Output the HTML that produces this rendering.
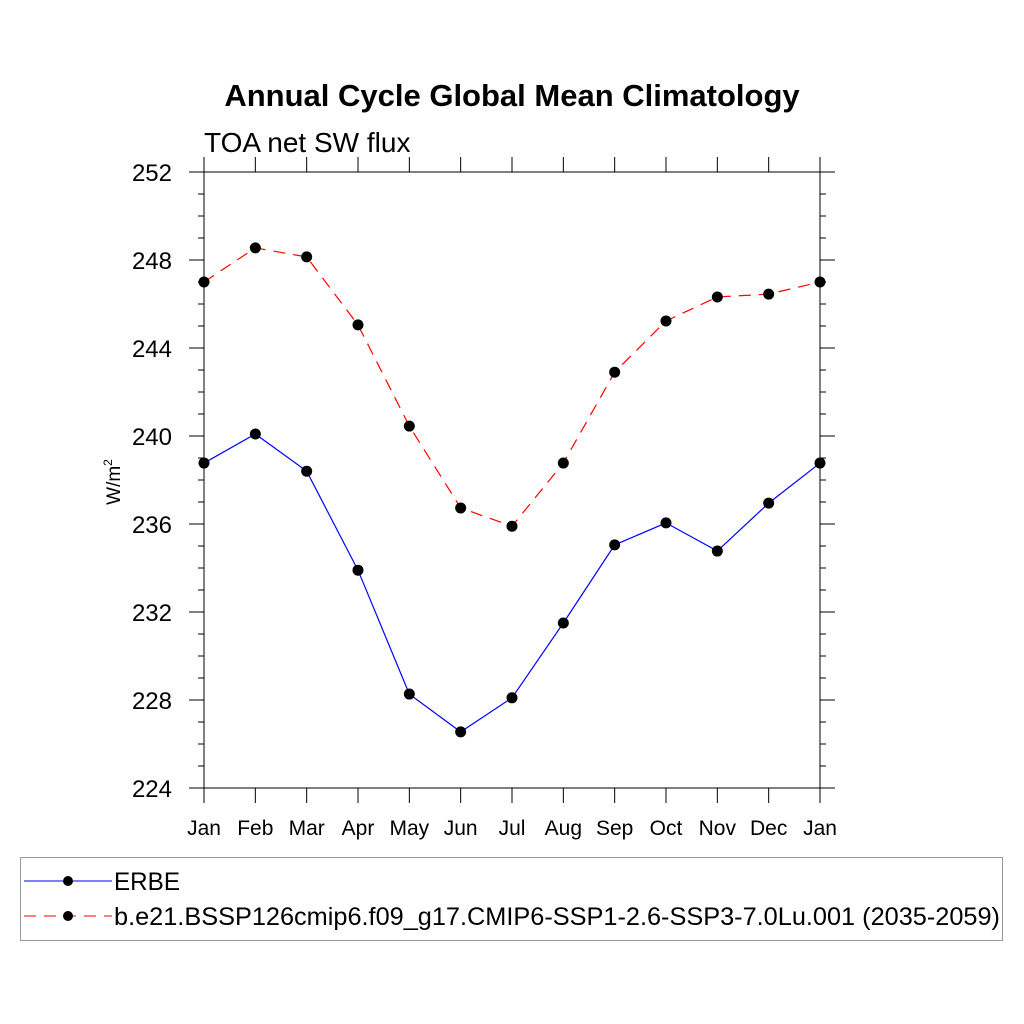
<!DOCTYPE html>
<html><head><meta charset="utf-8"><style>body{margin:0;background:#fff}svg{display:block}text{font-family:"Liberation Sans",Helvetica,sans-serif}</style></head>
<body>
<svg id="c" width="1024" height="1024" xmlns="http://www.w3.org/2000/svg"></svg>
<script>
const months = ["Jan","Feb","Mar","Apr","May","Jun","Jul","Aug","Sep","Oct","Nov","Dec","Jan"];
const erbe = [238.77,240.09,238.4,233.9,228.27,226.55,228.1,231.5,235.05,236.05,234.77,236.95,238.77];
const model = [247.0,248.55,248.14,245.05,240.45,236.73,235.9,238.77,242.9,245.23,246.32,246.45,247.0];
const yTicks = [224,228,232,236,240,244,248,252];
const NS="http://www.w3.org/2000/svg";
const svg=document.getElementById('c');
const L=204,R=820,T=172,B=788,ymin=224,ymax=252;
const xs=i=>L+(R-L)*i/(months.length-1);
const ys=v=>B-(v-ymin)/(ymax-ymin)*(B-T);
function el(t,a,p){const e=document.createElementNS(NS,t);for(const k in a)e.setAttribute(k,a[k]);(p||svg).appendChild(e);return e;}
let e;
e=el('text',{x:512,y:106,'text-anchor':'middle','font-size':31,'font-weight':'bold'});e.textContent='Annual Cycle Global Mean Climatology';


e=el('text',{x:204,y:152,'font-size':28});e.textContent='TOA net SW flux';


e=el('text',{x:0,y:0,'font-size':19,'text-anchor':'middle',transform:'translate(120,482) rotate(-90)'});
e.innerHTML='W/m<tspan dy="-8" font-size="12">2</tspan>';


e=el('rect',{x:L,y:T,width:R-L,height:B-T,fill:'none',stroke:'#000','stroke-width':1});


for(let v=ymin;v<=ymax;v++){
 const major=(v-ymin)%4===0,len=major?15:6,y=ys(v);
 el('line',{x1:L-len,x2:L,y1:y,y2:y,stroke:'#000'});
 el('line',{x1:R,x2:R+len,y1:y,y2:y,stroke:'#000'});
}
yTicks.forEach(v=>{e=el('text',{x:L-32,y:ys(v)+9,'text-anchor':'end','font-size':24});e.textContent=v;

});
months.forEach((m,i)=>{const x=xs(i);
 el('line',{x1:x,x2:x,y1:B,y2:B+15,stroke:'#000'});
 el('line',{x1:x,x2:x,y1:T-15,y2:T,stroke:'#000'});
 e=el('text',{x:x,y:835,'text-anchor':'middle','font-size':21});e.textContent=m;
 
 });
function series(vals,color,dash,name){
 e=el('polyline',{points:vals.map((v,i)=>xs(i)+','+ys(v)).join(' '),fill:'none',stroke:color,'stroke-width':1.2,'stroke-dasharray':dash});
 
 
 vals.forEach((v,i)=>{e=el('circle',{cx:xs(i),cy:ys(v),r:5.5,fill:'#000'});
 
 });
}
series(erbe,'#0000ff','none','erbe');
series(model,'#ff0000','12 8','model');
e=el('rect',{x:20.5,y:857.5,width:982,height:83,fill:'none',stroke:'#999'});


[['ERBE','#0000ff','none',881],['b.e21.BSSP126cmip6.f09_g17.CMIP6-SSP1-2.6-SSP3-7.0Lu.001 (2035-2059)','#ff0000','12 8',916]].forEach(([t,c,d,y])=>{
 el('line',{x1:24,x2:112,y1:y,y2:y,stroke:c,'stroke-dasharray':d});
 el('circle',{cx:68,cy:y,r:5,fill:'#000'});
 e=el('text',{x:114,y:y+9,'font-size':25,textLength:t.length>10?886:66,lengthAdjust:'spacingAndGlyphs'});e.textContent=t;
 
 
});
</script>
</body></html>
